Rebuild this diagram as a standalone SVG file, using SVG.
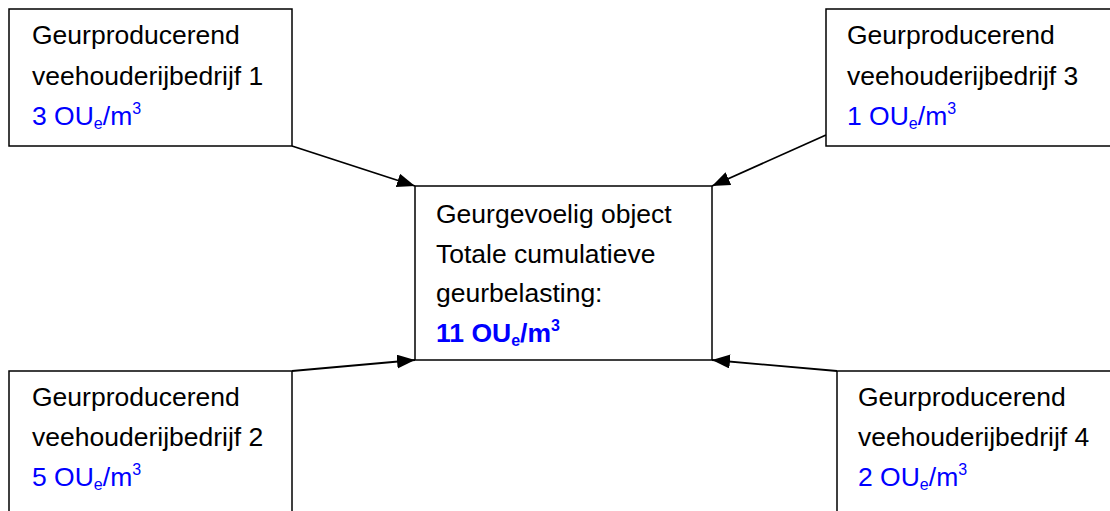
<svg xmlns="http://www.w3.org/2000/svg" width="1110" height="511" viewBox="0 0 1110 511">
<style>
.box{fill:#fff;stroke:#000;stroke-width:1.5}
.t{font-family:"Liberation Sans",Arial,sans-serif;font-size:26.5px;fill:#000}
.b{fill:#0000ff}
.s{font-size:16px}
.bold{font-weight:bold}
.c{stroke:#000;stroke-width:1.8;fill:none}
</style>
<defs>
<marker id="ah" markerUnits="userSpaceOnUse" markerWidth="20" markerHeight="16" refX="18" refY="7" orient="auto">
<path d="M0,0 L18,7 L0,14 Z" fill="#000"/>
</marker>
</defs>
<g id="connectors">
<line class="c" x1="292" y1="146" x2="415" y2="186" marker-end="url(#ah)"/>
<line class="c" x1="826" y1="135" x2="712" y2="186" marker-end="url(#ah)"/>
<line class="c" x1="292" y1="371" x2="415" y2="360" marker-end="url(#ah)"/>
<line class="c" x1="837" y1="371" x2="712" y2="360" marker-end="url(#ah)"/>
</g>
<g id="node1">
<rect class="box" x="9" y="9" width="283" height="137"/>
<text class="t" x="32" y="44">Geurproducerend</text>
<text class="t" x="32" y="85">veehouderijbedrijf 1</text>
<text class="t b" x="32" y="125">3 OU<tspan class="s" dy="4">e</tspan><tspan dy="-4">/m</tspan><tspan class="s" dy="-11">3</tspan></text>
</g>
<g id="node3">
<rect class="box" x="826" y="9" width="300" height="137"/>
<text class="t" x="847" y="44">Geurproducerend</text>
<text class="t" x="847" y="85">veehouderijbedrijf 3</text>
<text class="t b" x="847" y="125">1 OU<tspan class="s" dy="4">e</tspan><tspan dy="-4">/m</tspan><tspan class="s" dy="-11">3</tspan></text>
</g>
<g id="center">
<rect class="box" x="415" y="186" width="297" height="174"/>
<text class="t" x="436" y="223">Geurgevoelig object</text>
<text class="t" x="436" y="263">Totale cumulatieve</text>
<text class="t" x="436" y="302">geurbelasting:</text>
<text class="t b bold" x="436" y="342">11 OU<tspan class="s" dy="4">e</tspan><tspan dy="-4">/m</tspan><tspan class="s" dy="-11">3</tspan></text>
</g>
<g id="node2">
<rect class="box" x="9" y="371" width="283" height="160"/>
<text class="t" x="32" y="406">Geurproducerend</text>
<text class="t" x="32" y="446">veehouderijbedrijf 2</text>
<text class="t b" x="32" y="486">5 OU<tspan class="s" dy="4">e</tspan><tspan dy="-4">/m</tspan><tspan class="s" dy="-11">3</tspan></text>
</g>
<g id="node4">
<rect class="box" x="837" y="371" width="300" height="160"/>
<text class="t" x="858" y="406">Geurproducerend</text>
<text class="t" x="858" y="446">veehouderijbedrijf 4</text>
<text class="t b" x="858" y="486">2 OU<tspan class="s" dy="4">e</tspan><tspan dy="-4">/m</tspan><tspan class="s" dy="-11">3</tspan></text>
</g>
</svg>
